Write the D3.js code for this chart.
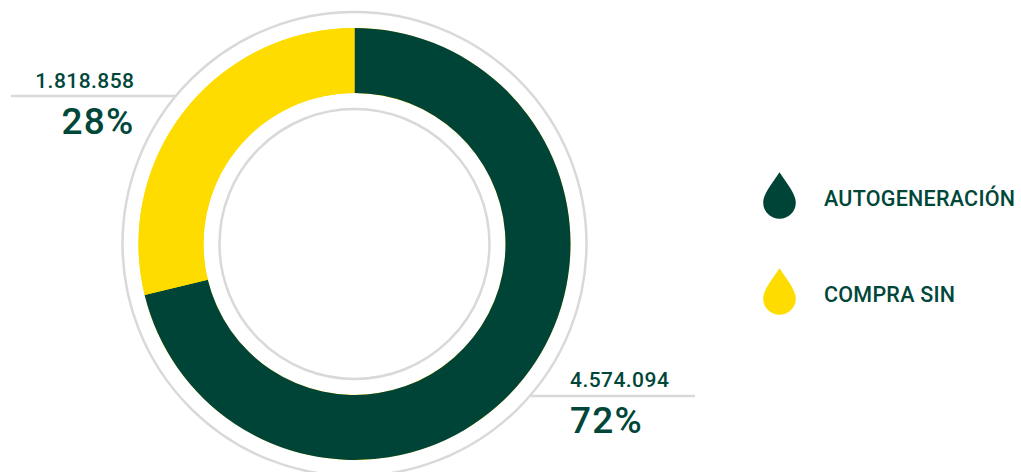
<!DOCTYPE html>
<html><head><meta charset="utf-8">
<script src="https://cdn.jsdelivr.net/npm/d3@7"></script>
<style>html,body{margin:0;padding:0;background:#fff}svg{display:block}text{font-family:Roboto,sans-serif;fill:#00473a}</style>
</head><body><svg id="c" width="1021" height="472"></svg>
<script>
const categories = ["AUTOGENERACIÓN", "COMPRA SIN"];
const sliceShares = [71.2, 28.8];
const valueLabels = ["4.574.094", "1.818.858"];
const percentLabels = ["72%", "28%"];
const colors = ["#004438", "#ffdc00"];

const W = 1021, H = 472, cx = 354.5, cy = 244;
const ringColor = "#d9d9d9";
const svg = d3.select("#c");
const chart = svg.append("g").attr("transform", `translate(${cx},${cy})`);

[232, 135].forEach(r => chart.append("circle").attr("r", r)
  .attr("fill", "none").attr("stroke", ringColor).attr("stroke-width", 2.5));

const arc = d3.arc().innerRadius(151).outerRadius(216);
// the reference shows a faint yellow fringe around the dark slice
chart.append("path").attr("d", arc({startAngle: 0, endAngle: 2 * Math.PI})).attr("fill", colors[1]);
const pie = d3.pie().sort(null).value(d => d);
chart.selectAll("path.slice").data(pie(sliceShares)).join("path")
  .attr("class", "slice").attr("d", arc).attr("fill", (d, i) => colors[i]);

// callouts
const callouts = [
  {i: 0, x1: 530, x2: 695, y: 396, anchor: "start", tx: 570, vy: 386.5, py: 433},
  {i: 1, x1: 11, x2: 176, y: 96, anchor: "end", tx: 134.5, vy: 87.5, py: 134}
];
callouts.forEach(c => {
  svg.append("line").attr("x1", c.x1).attr("x2", c.x2).attr("y1", c.y).attr("y2", c.y)
    .attr("stroke", ringColor).attr("stroke-width", 2.5);
  svg.append("text").attr("x", c.tx).attr("y", c.vy).attr("text-anchor", c.anchor)
    .attr("font-size", 21).attr("font-weight", 500).attr("letter-spacing", 0.45).text(valueLabels[c.i]);
  svg.append("text").attr("x", c.tx).attr("y", c.py).attr("text-anchor", c.anchor)
    .attr("font-size", 37).attr("font-weight", 500).attr("letter-spacing", 1.2).text(percentLabels[c.i]);
});

// legend
const legendY = d3.scalePoint().domain(categories).range([198, 294]);
const drop = {draw(ctx, size) {
  const r = Math.sqrt(size) / 2.9;
  ctx.moveTo(0, -r * 1.85);
  ctx.bezierCurveTo(r * 0.5, -r * 1.1, r, -r * 0.5, r, 0);
  ctx.arc(0, 0, r, 0, Math.PI);
  ctx.bezierCurveTo(-r, -r * 0.5, -r * 0.5, -r * 1.1, 0, -r * 1.85);
  ctx.closePath();
}};
const legend = svg.selectAll("g.leg").data(categories).join("g").attr("class", "leg")
  .attr("transform", d => `translate(0,${legendY(d)})`);
legend.append("path").attr("transform", "translate(779.5,4.5)")
  .attr("d", d3.symbol().type(drop).size(2235))
  .attr("fill", (d, i) => colors[i]);
legend.append("text").attr("x", 824).attr("y", 7.5)
  .attr("font-size", 21.5).attr("font-weight", 500).attr("letter-spacing", 0.25).text(d => d);
</script></body></html>
